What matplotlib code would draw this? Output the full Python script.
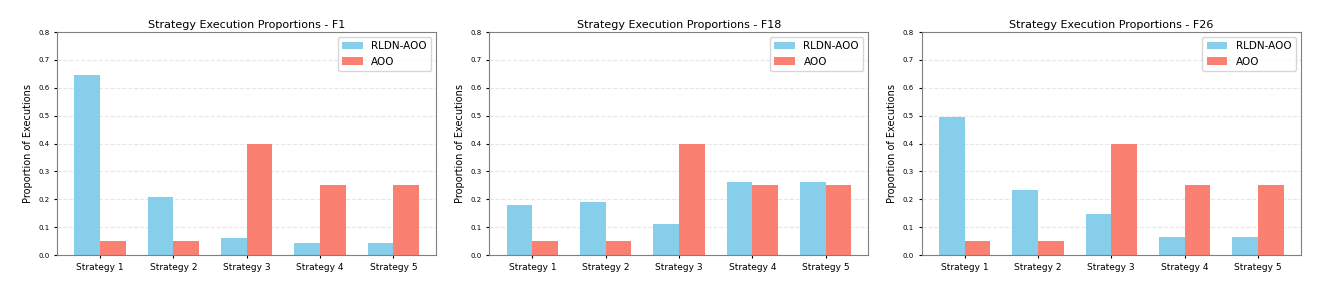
import numpy as np
import matplotlib
matplotlib.use("Agg")
import matplotlib.pyplot as plt

strategies = ["Strategy 1", "Strategy 2", "Strategy 3", "Strategy 4", "Strategy 5"]
functions = ["F1", "F18", "F26"]

rldn_f1 = [0.645, 0.207, 0.061, 0.043, 0.043]
rldn_f18 = [0.178, 0.190, 0.111, 0.261, 0.261]
rldn_f26 = [0.495, 0.232, 0.146, 0.065, 0.065]
aoo_vals = [0.05, 0.05, 0.40, 0.25, 0.25]

rldn_all = [rldn_f1, rldn_f18, rldn_f26]

fig = plt.figure(figsize=(13.3, 2.86), dpi=100)
lefts = [0.043, 0.368, 0.693]
x = np.arange(len(strategies))
width = 0.35

for i, fn in enumerate(functions):
    ax = fig.add_axes([lefts[i], 0.108, 0.285, 0.78])
    ax.bar(x - width / 2, rldn_all[i], width, label="RLDN-AOO", color="skyblue")
    ax.bar(x + width / 2, aoo_vals, width, label="AOO", color="salmon")
    ax.set_xticks(x)
    ax.set_xticklabels(strategies, fontsize=6.5)
    ax.set_ylim(0, 0.8)
    ax.set_yticks(np.arange(0, 0.81, 0.1))
    ax.tick_params(axis="y", labelsize=5)
    ax.tick_params(length=2)
    ax.set_ylabel("Proportion of Executions", fontsize=7)
    ax.set_title(f"Strategy Execution Proportions - {fn}", fontsize=8, pad=3)
    ax.yaxis.grid(True, linestyle="--", alpha=0.3)
    ax.set_axisbelow(True)
    for s in ax.spines.values():
        s.set_color("gray")
    ax.legend(loc="upper right", fontsize=7.5)

fig.savefig("out.png", dpi=100)
